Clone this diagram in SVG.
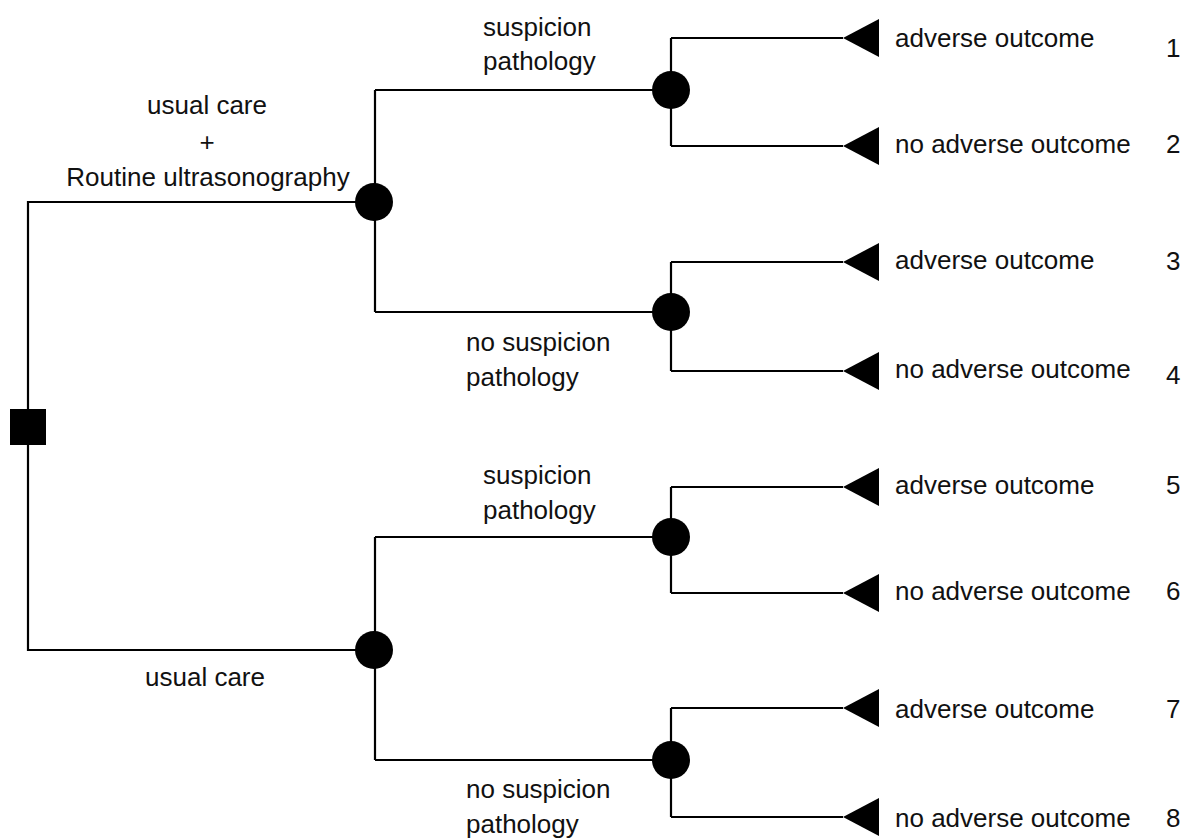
<svg xmlns="http://www.w3.org/2000/svg" width="1187" height="838" viewBox="0 0 1187 838">
<style>
.ln{fill:none;stroke:#000;stroke-width:2.2}
.t{font-family:"Liberation Sans",Arial,sans-serif;font-size:26px;fill:#111}
.c{text-anchor:middle}
</style>
<defs>
<polygon id="tri" points="0,0 36,-19 36,19" fill="#000"/>
</defs>
<rect width="1187" height="838" fill="#fff"/>
<g id="connectors">
<path class="ln" d="M28,427 V202 H374 M28,427 V650 H374"/>
<path class="ln" d="M375,90 V312 M375,90 H670 M375,312 H670"/>
<path class="ln" d="M375,537 V760 M375,537 H670 M375,760 H670"/>
<path class="ln" d="M671,38 V146 M671,38 H843 M671,146 H843"/>
<path class="ln" d="M671,262 V371 M671,262 H843 M671,371 H843"/>
<path class="ln" d="M671,487 V593 M671,487 H843 M671,593 H843"/>
<path class="ln" d="M671,708 V817 M671,708 H843 M671,817 H843"/>
</g>
<g id="decision"><rect x="10" y="409" width="36" height="36" fill="#000"/></g>
<g id="chance-us"><circle cx="374" cy="202" r="19"/></g>
<g id="chance-uc"><circle cx="374" cy="650" r="19"/></g>
<g id="chance-us-sp"><circle cx="671" cy="90" r="19"/></g>
<g id="chance-us-nsp"><circle cx="671" cy="312" r="19"/></g>
<g id="chance-uc-sp"><circle cx="671" cy="537" r="19"/></g>
<g id="chance-uc-nsp"><circle cx="671" cy="760" r="19"/></g>
<g id="t1"><use href="#tri" x="843" y="38"/><text class="t" x="895" y="47">adverse outcome</text><text class="t" x="1166" y="57">1</text></g>
<g id="t2"><use href="#tri" x="843" y="146"/><text class="t" x="895" y="153">no adverse outcome</text><text class="t" x="1166" y="153">2</text></g>
<g id="t3"><use href="#tri" x="843" y="262"/><text class="t" x="895" y="269">adverse outcome</text><text class="t" x="1166" y="270">3</text></g>
<g id="t4"><use href="#tri" x="843" y="371"/><text class="t" x="895" y="378">no adverse outcome</text><text class="t" x="1166" y="384">4</text></g>
<g id="t5"><use href="#tri" x="843" y="487"/><text class="t" x="895" y="494">adverse outcome</text><text class="t" x="1166" y="494">5</text></g>
<g id="t6"><use href="#tri" x="843" y="593"/><text class="t" x="895" y="600">no adverse outcome</text><text class="t" x="1166" y="600">6</text></g>
<g id="t7"><use href="#tri" x="843" y="708"/><text class="t" x="895" y="718">adverse outcome</text><text class="t" x="1166" y="718">7</text></g>
<g id="t8"><use href="#tri" x="843" y="817"/><text class="t" x="895" y="827">no adverse outcome</text><text class="t" x="1166" y="827">8</text></g>
<g id="labels">
<text class="t c" x="207" y="114">usual care</text>
<text class="t c" x="207" y="151">+</text>
<text class="t c" x="208" y="186">Routine ultrasonography</text>
<text class="t c" x="205" y="686">usual care</text>
<text class="t" x="483" y="36">suspicion</text>
<text class="t" x="483" y="70">pathology</text>
<text class="t" x="466" y="351">no suspicion</text>
<text class="t" x="466" y="386">pathology</text>
<text class="t" x="483" y="484">suspicion</text>
<text class="t" x="483" y="519">pathology</text>
<text class="t" x="466" y="798">no suspicion</text>
<text class="t" x="466" y="833">pathology</text>
</g>
</svg>
